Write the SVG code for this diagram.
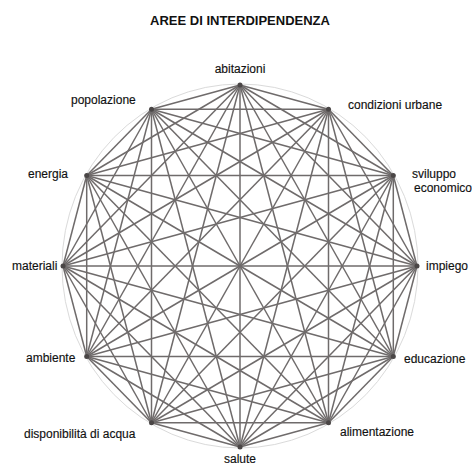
<svg xmlns="http://www.w3.org/2000/svg" width="472" height="466" viewBox="0 0 472 466">
<style>
text{font-family:"Liberation Sans",Arial,sans-serif;font-size:12px;fill:#111;stroke:#111;stroke-width:0.15}
.title{font-size:13px;font-weight:bold;stroke:none}
#connectors line{stroke:#6f6b6b;stroke-width:1.5}
.ring{fill:none;stroke:#dadada;stroke-width:1}
.dot{fill:#4a4646}
</style>
<rect width="472" height="466" fill="#fff"/>
<text class="title" x="240" y="25" text-anchor="middle">AREE DI INTERDIPENDENZA</text>
<ellipse class="ring" cx="240" cy="266" rx="178" ry="182"/>
<g id="connectors">
<line x1="240" y1="85" x2="328.5" y2="109.25"/>
<line x1="240" y1="85" x2="393.3" y2="175.5"/>
<line x1="240" y1="85" x2="417" y2="266"/>
<line x1="240" y1="85" x2="393.3" y2="356.5"/>
<line x1="240" y1="85" x2="328.5" y2="422.75"/>
<line x1="240" y1="85" x2="240" y2="447"/>
<line x1="240" y1="85" x2="151.5" y2="422.75"/>
<line x1="240" y1="85" x2="86.7" y2="356.5"/>
<line x1="240" y1="85" x2="63" y2="266"/>
<line x1="240" y1="85" x2="86.7" y2="175.5"/>
<line x1="240" y1="85" x2="151.5" y2="109.25"/>
<line x1="328.5" y1="109.25" x2="393.3" y2="175.5"/>
<line x1="328.5" y1="109.25" x2="417" y2="266"/>
<line x1="328.5" y1="109.25" x2="393.3" y2="356.5"/>
<line x1="328.5" y1="109.25" x2="328.5" y2="422.75"/>
<line x1="328.5" y1="109.25" x2="240" y2="447"/>
<line x1="328.5" y1="109.25" x2="151.5" y2="422.75"/>
<line x1="328.5" y1="109.25" x2="86.7" y2="356.5"/>
<line x1="328.5" y1="109.25" x2="63" y2="266"/>
<line x1="328.5" y1="109.25" x2="86.7" y2="175.5"/>
<line x1="328.5" y1="109.25" x2="151.5" y2="109.25"/>
<line x1="393.3" y1="175.5" x2="417" y2="266"/>
<line x1="393.3" y1="175.5" x2="393.3" y2="356.5"/>
<line x1="393.3" y1="175.5" x2="328.5" y2="422.75"/>
<line x1="393.3" y1="175.5" x2="240" y2="447"/>
<line x1="393.3" y1="175.5" x2="151.5" y2="422.75"/>
<line x1="393.3" y1="175.5" x2="86.7" y2="356.5"/>
<line x1="393.3" y1="175.5" x2="63" y2="266"/>
<line x1="393.3" y1="175.5" x2="86.7" y2="175.5"/>
<line x1="393.3" y1="175.5" x2="151.5" y2="109.25"/>
<line x1="417" y1="266" x2="393.3" y2="356.5"/>
<line x1="417" y1="266" x2="328.5" y2="422.75"/>
<line x1="417" y1="266" x2="240" y2="447"/>
<line x1="417" y1="266" x2="151.5" y2="422.75"/>
<line x1="417" y1="266" x2="86.7" y2="356.5"/>
<line x1="417" y1="266" x2="63" y2="266"/>
<line x1="417" y1="266" x2="86.7" y2="175.5"/>
<line x1="417" y1="266" x2="151.5" y2="109.25"/>
<line x1="393.3" y1="356.5" x2="328.5" y2="422.75"/>
<line x1="393.3" y1="356.5" x2="240" y2="447"/>
<line x1="393.3" y1="356.5" x2="151.5" y2="422.75"/>
<line x1="393.3" y1="356.5" x2="86.7" y2="356.5"/>
<line x1="393.3" y1="356.5" x2="63" y2="266"/>
<line x1="393.3" y1="356.5" x2="86.7" y2="175.5"/>
<line x1="393.3" y1="356.5" x2="151.5" y2="109.25"/>
<line x1="328.5" y1="422.75" x2="240" y2="447"/>
<line x1="328.5" y1="422.75" x2="151.5" y2="422.75"/>
<line x1="328.5" y1="422.75" x2="86.7" y2="356.5"/>
<line x1="328.5" y1="422.75" x2="63" y2="266"/>
<line x1="328.5" y1="422.75" x2="86.7" y2="175.5"/>
<line x1="328.5" y1="422.75" x2="151.5" y2="109.25"/>
<line x1="240" y1="447" x2="151.5" y2="422.75"/>
<line x1="240" y1="447" x2="86.7" y2="356.5"/>
<line x1="240" y1="447" x2="63" y2="266"/>
<line x1="240" y1="447" x2="86.7" y2="175.5"/>
<line x1="240" y1="447" x2="151.5" y2="109.25"/>
<line x1="151.5" y1="422.75" x2="86.7" y2="356.5"/>
<line x1="151.5" y1="422.75" x2="63" y2="266"/>
<line x1="151.5" y1="422.75" x2="86.7" y2="175.5"/>
<line x1="151.5" y1="422.75" x2="151.5" y2="109.25"/>
<line x1="86.7" y1="356.5" x2="63" y2="266"/>
<line x1="86.7" y1="356.5" x2="86.7" y2="175.5"/>
<line x1="86.7" y1="356.5" x2="151.5" y2="109.25"/>
<line x1="63" y1="266" x2="86.7" y2="175.5"/>
<line x1="63" y1="266" x2="151.5" y2="109.25"/>
<line x1="86.7" y1="175.5" x2="151.5" y2="109.25"/>
</g>
<g id="abitazioni"><circle class="dot" cx="240" cy="85" r="2.5"/><text x="240" y="73" text-anchor="middle">abitazioni</text></g>
<g id="condizioni-urbane"><circle class="dot" cx="328.5" cy="109.25" r="2.5"/><text x="348" y="109">condizioni urbane</text></g>
<g id="sviluppo-economico"><circle class="dot" cx="393.3" cy="175.5" r="2.5"/><text x="412" y="178">sviluppo</text><text x="414" y="192">economico</text></g>
<g id="impiego"><circle class="dot" cx="417" cy="266" r="2.5"/><text x="426" y="270">impiego</text></g>
<g id="educazione"><circle class="dot" cx="393.3" cy="356.5" r="2.5"/><text x="404" y="363">educazione</text></g>
<g id="alimentazione"><circle class="dot" cx="328.5" cy="422.75" r="2.5"/><text x="340" y="436">alimentazione</text></g>
<g id="salute"><circle class="dot" cx="240" cy="447" r="2.5"/><text x="240" y="463" text-anchor="middle">salute</text></g>
<g id="disponibilita-di-acqua"><circle class="dot" cx="151.5" cy="422.75" r="2.5"/><text x="24" y="438">disponibilità di acqua</text></g>
<g id="ambiente"><circle class="dot" cx="86.7" cy="356.5" r="2.5"/><text x="26" y="362">ambiente</text></g>
<g id="materiali"><circle class="dot" cx="63" cy="266" r="2.5"/><text x="12" y="270">materiali</text></g>
<g id="energia"><circle class="dot" cx="86.7" cy="175.5" r="2.5"/><text x="28" y="178">energia</text></g>
<g id="popolazione"><circle class="dot" cx="151.5" cy="109.25" r="2.5"/><text x="71" y="104">popolazione</text></g>
</svg>
